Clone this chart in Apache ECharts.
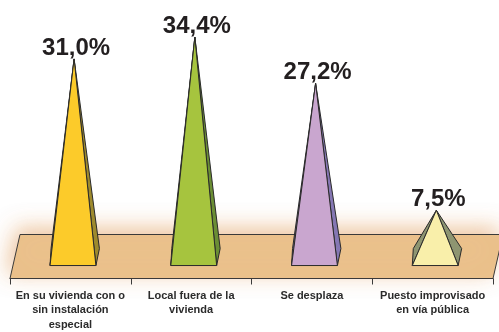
<!DOCTYPE html>
<html>
<head>
<meta charset="utf-8">
<script src="https://cdn.jsdelivr.net/npm/echarts@6/dist/echarts.min.js"></script>
<style>
html,body{margin:0;padding:0;background:#fff;}
#chart{width:499px;height:332px;}
</style>
</head>
<body>
<div id="chart"></div>
<script>
const categories = [
  'En su vivienda con o\nsin instalación\nespecial',
  'Local fuera de la\nvivienda',
  'Se desplaza',
  'Puesto improvisado\nen vía pública'
];
const values = [31.0, 34.4, 27.2, 7.5];
const frontColors = ['#FCCB2A', '#A6C43E', '#C9A6CF', '#F9EFAA'];
const sideColors = ['#9E8A2D', '#6B8E34', '#8577B3', '#8E9571'];

const chart = echarts.init(document.getElementById('chart'), null, {renderer: 'canvas'});

const floorSeries = {
  type: 'custom',
  z: 1,
  silent: true,
  data: [[0, 0]],
  renderItem: function (params, api) {
    const cs = params.coordSys;
    const x0 = cs.x, x1 = cs.x + cs.width, yb = cs.y + cs.height;
    const front = yb, back = yb - 44, sh = 10;
    return {
      type: 'polygon',
      shape: {points: [[x0, front], [x1, front], [x1 + sh, back], [x0 + sh, back]]},
      style: {
        fill: '#EBC28D', stroke: '#3a3a3a', lineWidth: 1,
        shadowBlur: 22, shadowColor: 'rgba(222,150,80,0.55)',
        shadowOffsetX: -3, shadowOffsetY: -6
      }
    };
  }
};

const pyramidSeries = {
  type: 'custom',
  z: 2,
  clip: false,
  data: values.map((v, i) => [i, v]),
  encode: {x: 0, y: 1},
  renderItem: function (params, api) {
    const i = api.value(0), v = api.value(1);
    const base = api.coord([i, 0]);
    const top = api.coord([i, v]);
    const bw = api.size([1, 0])[0];
    const y0 = base[1];
    const hw = bw * 0.19;
    const fc = base[0] + 2.6;
    const FL = [fc - hw, y0 + 7], FR = [fc + hw, y0 + 7];
    const BR = [fc + hw + 3.5, y0 - 10], BL = [fc - hw + 1, y0 - 10];
    const apex = [(FL[0] + FR[0] + BR[0] + BL[0]) / 4, top[1]];
    const idx = params.dataIndex;
    const stroke = {stroke: '#2a2a2a', lineWidth: 1, lineJoin: 'round'};
    const txt = v.toFixed(1).replace('.', ',') + '%';
    return {
      type: 'group',
      children: [
        {type: 'polygon', shape: {points: [apex, BL, FL]}, style: Object.assign({fill: sideColors[idx]}, stroke)},
        {type: 'polygon', shape: {points: [apex, FR, BR]}, style: Object.assign({fill: sideColors[idx]}, stroke)},
        {type: 'polygon', shape: {points: [apex, FL, FR]}, style: Object.assign({fill: frontColors[idx]}, stroke)},
        {type: 'text', z2: 10, style: {
          text: txt, x: apex[0] + 2, y: apex[1] - 11,
          align: 'center', verticalAlign: 'middle',
          font: 'bold 24px "Liberation Sans", Arial, sans-serif', fill: '#231F20'
        }}
      ]
    };
  }
};

chart.setOption({
  animation: false,
  backgroundColor: '#ffffff',
  grid: {left: 10, right: 6, top: 1, bottom: 52},
  xAxis: {
    type: 'category',
    data: categories,
    z: 5,
    axisLine: {show: true, onZero: false, lineStyle: {color: '#3a3a3a', width: 1}},
    axisTick: {show: true, length: 6, lineStyle: {color: '#3a3a3a'}},
    splitLine: {show: false},
    axisLabel: {
      interval: 0, margin: 10,
      fontFamily: '"Liberation Sans", Arial, sans-serif',
      fontWeight: 'bold', fontSize: 11, color: '#2b2b2b', lineHeight: 14.5
    }
  },
  yAxis: {type: 'value', min: -3.1, max: 40, show: false, splitLine: {show: false}},
  series: [floorSeries, pyramidSeries]
});
</script>
</body>
</html>
